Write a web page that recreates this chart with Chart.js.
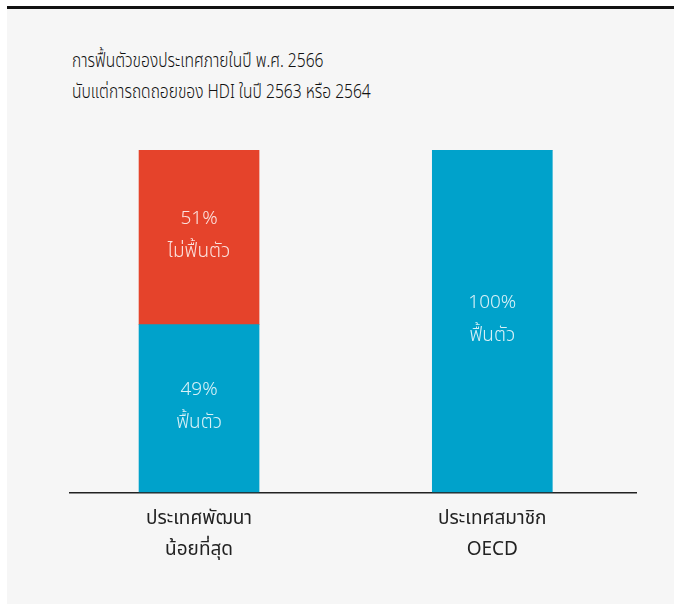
<!DOCTYPE html>
<html>
<head>
<meta charset="utf-8">
<script src="https://cdn.jsdelivr.net/npm/chart.js@4"></script>
<style>
  body { margin: 0; background: #fff; }
  #card {
    position: absolute; left: 7px; top: 6px; width: 667px; height: 598px;
    background: #f6f6f6; border-top: 3px solid #111;
  }
  #title {
    position: absolute; left: 65px; top: 37px; white-space: nowrap;
    font-family: "Noto Sans Thai", "Noto Sans", sans-serif;
    font-size: 20px; font-weight: 300; line-height: 31px; color: #111;
    transform: scaleX(0.78); transform-origin: left top;
  }
  #wrap { position: absolute; left: 0; top: 0; width: 667px; height: 595px; }
</style>
</head>
<body>
<div id="card">
  <div id="title">การฟื้นตัวของประเทศภายในปี พ.ศ. 2566<br>นับแต่การถดถอยของ HDI ในปี 2563 หรือ 2564</div>
  <div id="wrap"><canvas id="chart"></canvas></div>
</div>
<script>
const FONT = '"Noto Sans Thai", "Noto Sans", sans-serif';

const categories = [['ประเทศพัฒนา', 'น้อยที่สุด'], ['ประเทศสมาชิก', 'OECD']];
const recovered = [49, 100];
const notRecovered = [51, 0];
const recoveredLabel = 'ฟื้นตัว';
const notRecoveredLabel = 'ไม่ฟื้นตัว';

const toPoints = function (values) {
    return values.map(function (v, i) {
        return { x: i, y: v };
    });
};

// two-line label (value + status) in the middle of each segment
const barLabels = {
    id: 'barLabels',
    afterDatasetsDraw: function (chart) {
        const ctx = chart.ctx;
        ctx.save();
        ctx.fillStyle = 'rgba(255,255,255,0.85)';
        ctx.font = '300 19px ' + FONT;
        ctx.textAlign = 'center';
        ctx.textBaseline = 'middle';
        chart.data.datasets.forEach(function (ds, di) {
            chart.getDatasetMeta(di).data.forEach(function (bar, i) {
                const v = ds.data[i].y;
                if (!v) return;
                const mid = (bar.y + bar.base) / 2;
                ctx.fillText(v + '%', bar.x, mid - 17);
                ctx.fillText(ds.label, bar.x, mid + 16);
            });
        });
        ctx.restore();
    }
};

new Chart(document.getElementById('chart'), {
    type: 'bar',
    data: {
        datasets: [
            { label: recoveredLabel, data: toPoints(recovered), backgroundColor: '#00a2cb' },
            { label: notRecoveredLabel, data: toPoints(notRecovered), backgroundColor: '#e5432b' }
        ]
    },
    options: {
        responsive: true,
        maintainAspectRatio: false,
        animation: false,
        layout: { padding: { left: 63, right: 38, top: 141, bottom: 33 } },
        barThickness: 120,
        plugins: { legend: { display: false }, tooltip: { enabled: false } },
        scales: {
            x: {
                type: 'linear',
                stacked: true,
                offset: false,
                min: -0.44,
                max: 1.49,
                afterBuildTicks: function (scale) {
                    scale.ticks = [{ value: 0 }, { value: 1 }];
                },
                grid: { display: false, offset: false },
                border: { color: '#222', width: 1.5 },
                ticks: {
                    padding: 4,
                    color: '#222',
                    font: { family: FONT, size: 19, lineHeight: 1.65 },
                    callback: function (v) { return categories[v]; }
                }
            },
            y: {
                stacked: true,
                min: 0,
                max: 100,
                display: false
            }
        }
    },
    plugins: [barLabels]
});
</script>
</body>
</html>
